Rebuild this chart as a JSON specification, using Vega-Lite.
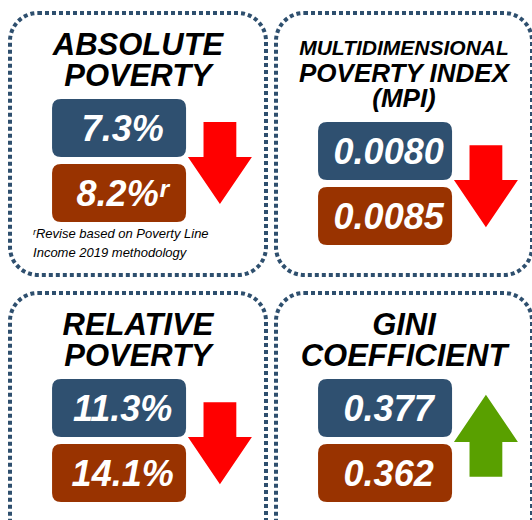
{
  "$schema": "https://vega.github.io/schema/vega-lite/v6.json",
  "width": 532,
  "height": 520,
  "autosize": "none",
  "padding": 0,
  "background": "white",
  "config": {"view": {"stroke": null}, "font": "Liberation Sans"},
  "datasets": {
    "panels": [
      {"panel": "Absolute Poverty", "col": "L", "row": "T", "titleLines": 2, "title": ["ABSOLUTE", "POVERTY"], "current": "7.3%", "previous": "8.2%ʳ", "direction": "down", "note": ["ʳRevise based on Poverty Line", "Income 2019 methodology"]},
      {"panel": "Multidimensional Poverty Index", "col": "R", "row": "T", "titleLines": 3, "kicker": "MULTIDIMENSIONAL", "title": ["POVERTY INDEX", "(MPI)"], "current": "0.0080", "previous": "0.0085", "direction": "down"},
      {"panel": "Relative Poverty", "col": "L", "row": "B", "titleLines": 2, "title": ["RELATIVE", "POVERTY"], "current": "11.3%", "previous": "14.1%", "direction": "down"},
      {"panel": "Gini Coefficient", "col": "R", "row": "B", "titleLines": 2, "title": ["GINI", "COEFFICIENT"], "current": "0.377", "previous": "0.362", "direction": "up"}
    ]
  },
  "data": {"name": "panels"},
  "layer": [
    {
      "mark": {"type": "rect", "fill": "white", "stroke": "#2E4F6E", "strokeWidth": 4, "strokeDash": [4, 3], "cornerRadius": 28},
      "encoding": {
        "x": {"field": "col", "type": "nominal", "axis": null, "scale": {"type": "band", "domain": ["L", "R"], "range": [10, 532], "paddingInner": 0.0376, "paddingOuter": 0}},
        "y": {"field": "row", "type": "nominal", "axis": null, "scale": {"type": "band", "domain": ["T", "B"], "range": [13, 555], "paddingInner": 0.0643, "paddingOuter": 0}}
      }
    },
    {
      "transform": [{"filter": "datum.titleLines == 2"}],
      "mark": {"type": "point", "filled": true, "opacity": 1, "color": "#2F5070", "size": 17956, "shape": "M-0.866,-0.433 L0.866,-0.433 Q1,-0.433 1,-0.299 L1,0.299 Q1,0.433 0.866,0.433 L-0.866,0.433 Q-1,0.433 -1,0.299 L-1,-0.299 Q-1,-0.433 -0.866,-0.433 Z"},
      "encoding": {
        "x": {"field": "col", "type": "nominal", "axis": null, "bandPosition": 0.426},
        "y": {"field": "row", "type": "nominal", "axis": null, "bandPosition": 0.439}
      }
    },
    {
      "transform": [{"filter": "datum.titleLines == 3"}],
      "mark": {"type": "point", "filled": true, "opacity": 1, "color": "#2F5070", "size": 17956, "shape": "M-0.866,-0.433 L0.866,-0.433 Q1,-0.433 1,-0.299 L1,0.299 Q1,0.433 0.866,0.433 L-0.866,0.433 Q-1,0.433 -1,0.299 L-1,-0.299 Q-1,-0.433 -0.866,-0.433 Z"},
      "encoding": {
        "x": {"field": "col", "type": "nominal", "axis": null, "bandPosition": 0.426},
        "y": {"field": "row", "type": "nominal", "axis": null, "bandPosition": 0.527}
      }
    },
    {
      "transform": [{"filter": "datum.titleLines == 2"}],
      "mark": {"type": "point", "filled": true, "opacity": 1, "color": "#993300", "size": 17956, "shape": "M-0.866,-0.433 L0.866,-0.433 Q1,-0.433 1,-0.299 L1,0.299 Q1,0.433 0.866,0.433 L-0.866,0.433 Q-1,0.433 -1,0.299 L-1,-0.299 Q-1,-0.433 -0.866,-0.433 Z"},
      "encoding": {
        "x": {"field": "col", "type": "nominal", "axis": null, "bandPosition": 0.426},
        "y": {"field": "row", "type": "nominal", "axis": null, "bandPosition": 0.687}
      }
    },
    {
      "transform": [{"filter": "datum.titleLines == 3"}],
      "mark": {"type": "point", "filled": true, "opacity": 1, "color": "#993300", "size": 17956, "shape": "M-0.866,-0.433 L0.866,-0.433 Q1,-0.433 1,-0.299 L1,0.299 Q1,0.433 0.866,0.433 L-0.866,0.433 Q-1,0.433 -1,0.299 L-1,-0.299 Q-1,-0.433 -0.866,-0.433 Z"},
      "encoding": {
        "x": {"field": "col", "type": "nominal", "axis": null, "bandPosition": 0.426},
        "y": {"field": "row", "type": "nominal", "axis": null, "bandPosition": 0.775}
      }
    },
    {
      "transform": [{"filter": "datum.titleLines == 2"}],
      "mark": {"type": "point", "filled": true, "opacity": 1, "size": 6724},
      "encoding": {
        "x": {"field": "col", "type": "nominal", "axis": null, "bandPosition": 0.82},
        "y": {"field": "row", "type": "nominal", "axis": null, "bandPosition": 0.573},
        "shape": {"field": "direction", "type": "nominal", "legend": null, "scale": {"domain": ["down", "up"], "range": ["M-0.40,-1 L0.40,-1 L0.40,-0.15 L0.78,-0.15 L0,1 L-0.78,-0.15 L-0.40,-0.15 Z", "M0,-1.18 L0.78,-0.03 L0.40,-0.03 L0.40,0.82 L-0.40,0.82 L-0.40,-0.03 L-0.78,-0.03 Z"]}},
        "color": {"field": "direction", "type": "nominal", "legend": null, "scale": {"domain": ["down", "up"], "range": ["#FF0000", "#59A000"]}}
      }
    },
    {
      "transform": [{"filter": "datum.titleLines == 3"}],
      "mark": {"type": "point", "filled": true, "opacity": 1, "size": 6724},
      "encoding": {
        "x": {"field": "col", "type": "nominal", "axis": null, "bandPosition": 0.82},
        "y": {"field": "row", "type": "nominal", "axis": null, "bandPosition": 0.661},
        "shape": {"field": "direction", "type": "nominal", "legend": null},
        "color": {"field": "direction", "type": "nominal", "legend": null}
      }
    },
    {
      "transform": [{"filter": "datum.titleLines == 2"}],
      "mark": {"type": "text", "color": "white", "fontSize": 36, "fontWeight": "bold", "fontStyle": "italic", "align": "center", "baseline": "alphabetic"},
      "encoding": {
        "x": {"field": "col", "type": "nominal", "axis": null, "bandPosition": 0.44},
        "y": {"field": "row", "type": "nominal", "axis": null, "bandPosition": 0.489},
        "text": {"field": "current", "type": "nominal"}
      }
    },
    {
      "transform": [{"filter": "datum.titleLines == 3"}],
      "mark": {"type": "text", "color": "white", "fontSize": 36, "fontWeight": "bold", "fontStyle": "italic", "align": "center", "baseline": "alphabetic"},
      "encoding": {
        "x": {"field": "col", "type": "nominal", "axis": null, "bandPosition": 0.44},
        "y": {"field": "row", "type": "nominal", "axis": null, "bandPosition": 0.577},
        "text": {"field": "current", "type": "nominal"}
      }
    },
    {
      "transform": [{"filter": "datum.titleLines == 2"}],
      "mark": {"type": "text", "color": "white", "fontSize": 36, "fontWeight": "bold", "fontStyle": "italic", "align": "center", "baseline": "alphabetic"},
      "encoding": {
        "x": {"field": "col", "type": "nominal", "axis": null, "bandPosition": 0.44},
        "y": {"field": "row", "type": "nominal", "axis": null, "bandPosition": 0.737},
        "text": {"field": "previous", "type": "nominal"}
      }
    },
    {
      "transform": [{"filter": "datum.titleLines == 3"}],
      "mark": {"type": "text", "color": "white", "fontSize": 36, "fontWeight": "bold", "fontStyle": "italic", "align": "center", "baseline": "alphabetic"},
      "encoding": {
        "x": {"field": "col", "type": "nominal", "axis": null, "bandPosition": 0.44},
        "y": {"field": "row", "type": "nominal", "axis": null, "bandPosition": 0.825},
        "text": {"field": "previous", "type": "nominal"}
      }
    },
    {
      "transform": [{"filter": "datum.titleLines == 2"}],
      "mark": {"type": "text", "color": "black", "fontSize": 31, "lineHeight": 31, "fontWeight": "bold", "fontStyle": "italic", "align": "center", "baseline": "alphabetic"},
      "encoding": {
        "x": {"field": "col", "type": "nominal", "axis": null, "bandPosition": 0.5},
        "y": {"field": "row", "type": "nominal", "axis": null, "bandPosition": 0.16},
        "text": {"field": "title", "type": "nominal"}
      }
    },
    {
      "transform": [{"filter": "isValid(datum.kicker)"}],
      "mark": {"type": "text", "color": "black", "fontSize": 21, "fontWeight": "bold", "fontStyle": "italic", "align": "center", "baseline": "alphabetic"},
      "encoding": {
        "x": {"field": "col", "type": "nominal", "axis": null, "bandPosition": 0.5},
        "y": {"field": "row", "type": "nominal", "axis": null, "bandPosition": 0.16},
        "text": {"field": "kicker", "type": "nominal"}
      }
    },
    {
      "transform": [{"filter": "datum.titleLines == 3"}],
      "mark": {"type": "text", "color": "black", "fontSize": 26, "lineHeight": 25, "fontWeight": "bold", "fontStyle": "italic", "align": "center", "baseline": "alphabetic"},
      "encoding": {
        "x": {"field": "col", "type": "nominal", "axis": null, "bandPosition": 0.5},
        "y": {"field": "row", "type": "nominal", "axis": null, "bandPosition": 0.263},
        "text": {"field": "title", "type": "nominal"}
      }
    },
    {
      "transform": [{"filter": "isValid(datum.note)"}],
      "mark": {"type": "text", "color": "black", "fontSize": 13, "lineHeight": 19, "fontStyle": "italic", "align": "left", "baseline": "alphabetic"},
      "encoding": {
        "x": {"field": "col", "type": "nominal", "axis": null, "bandPosition": 0.09},
        "y": {"field": "row", "type": "nominal", "axis": null, "bandPosition": 0.859},
        "text": {"field": "note", "type": "nominal"}
      }
    }
  ]
}
